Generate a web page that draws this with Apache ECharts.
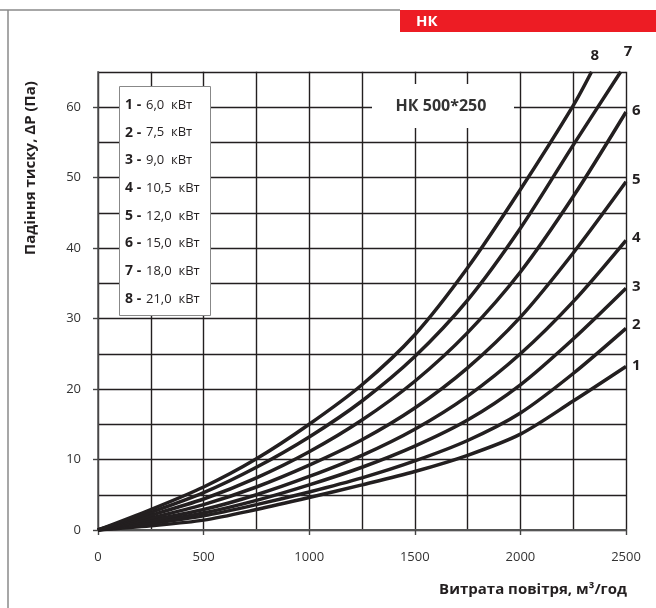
<!DOCTYPE html>
<html><head><meta charset="utf-8">
<script src="https://cdn.jsdelivr.net/npm/echarts@6/dist/echarts.min.js"></script>
<style>html,body{margin:0;padding:0;background:#fff}#c{width:656px;height:608px}</style>
</head><body><div id="c"></div>
<script>
// Air flow, m3/h
const flow = [0, 250, 500, 750, 1000, 1250, 1500, 1750, 2000, 2250, 2500];
// last flow point of each curve (curves 7 and 8 leave the chart at the top)
const endFlow = [2500, 2500, 2500, 2500, 2500, 2500, 2475, 2337];
const curveNo = ['1', '2', '3', '4', '5', '6', '7', '8'];
const powers = ['6,0', '7,5', '9,0', '10,5', '12,0', '15,0', '18,0', '21,0'];
// Pressure drop, Pa
const dp1 = [0, 0.6, 1.4, 2.9, 4.6, 6.4, 8.3, 10.6, 13.6, 18.3, 23.2];
const dp2 = [0, 0.9, 2.0, 3.6, 5.4, 7.4, 9.8, 12.7, 16.6, 22.2, 28.6];
const dp3 = [0, 1.1, 2.4, 4.2, 6.4, 8.9, 11.9, 15.6, 20.6, 27.1, 34.3];
const dp4 = [0, 1.4, 2.9, 5.0, 7.6, 10.6, 14.3, 19.0, 25.0, 32.4, 41.1];
const dp5 = [0, 1.7, 3.6, 6.1, 9.2, 12.8, 17.3, 23.0, 30.2, 39.3, 49.4];
const dp6 = [0, 2.1, 4.4, 7.4, 11.1, 15.6, 21.1, 28.0, 36.6, 47.3, 59.3];
const dp7 = [0, 2.5, 5.3, 8.9, 13.2, 18.3, 24.6, 32.6, 42.8, 54.6, 65.0];
const dp8 = [0, 2.9, 6.1, 10.1, 15.0, 20.6, 27.7, 37.2, 48.3, 60.2, 65.0];
const curves = [dp1, dp2, dp3, dp4, dp5, dp6, dp7, dp8];
const xTickLabels = [0, 500, 1000, 1500, 2000, 2500];
const yTickLabels = [0, 10, 20, 30, 40, 50, 60];
const labelOffsets = [[0, -1], [0, -4], [0, -1], [0, -3], [0, -2], [0, -1], [-3, -20], [-7, -16]];

const FONT = '"Open Sans", "Noto Sans", sans-serif';
const INK = '#231f20';

const chart = echarts.init(document.getElementById('c'), null, { renderer: 'canvas' });

const series = curves.map((dp, i) => ({
  type: 'line',
  name: curveNo[i],
  xAxisIndex: 0, yAxisIndex: 0,
  data: dp.map((v, j) => [j === dp.length - 1 ? endFlow[i] : flow[j], v]),
  smooth: 0.3,
  showSymbol: false,
  symbol: 'none',
  lineStyle: { color: INK, width: 3.5 },
  clip: true,
  silent: true,
  z: 5,
  endLabel: {
    show: true, formatter: curveNo[i], color: INK, fontFamily: FONT,
    fontWeight: 'bold', fontSize: 15, distance: 6, offset: labelOffsets[i]
  }
}));

const legendTexts = [];
curveNo.forEach((n, i) => {
  const y = 105 + i * 27.7;
  legendTexts.push({ type: 'text', x: 125, y: y, z: 101,
    style: { text: n + ' -', fill: INK, font: 'bold 14px ' + FONT, textVerticalAlign: 'middle' } });
  legendTexts.push({ type: 'text', x: 146, y: y, z: 101,
    style: { text: powers[i] + '  кВт', fill: INK, font: '13px ' + FONT, textVerticalAlign: 'middle' } });
});

chart.setOption({
  animation: false,
  backgroundColor: '#fff',
  grid: { left: 98, right: 30, top: 71.8, bottom: 78, containLabel: false },
  xAxis: [
    { type: 'value', min: 0, max: 2500, interval: 250, position: 'bottom',
      axisLine: { show: true, lineStyle: { color: '#555', width: 2 } },
      axisTick: { show: false }, axisLabel: { show: false },
      splitLine: { show: true, lineStyle: { color: INK, width: 1.4 } } },
    { type: 'value', min: 0, max: 2500, interval: 500, position: 'bottom',
      axisLine: { show: false },
      axisTick: { show: true, length: 5, customValues: xTickLabels, lineStyle: { color: '#444', width: 1.4 } },
      axisLabel: { show: true, customValues: xTickLabels, margin: 21, color: '#333', fontFamily: FONT, fontSize: 13,
        formatter: v => String(v) },
      splitLine: { show: false } }
  ],
  yAxis: [
    { type: 'value', min: 0, max: 65, interval: 5, position: 'left',
      axisLine: { show: true, lineStyle: { color: '#555', width: 1.5 } },
      axisTick: { show: false }, axisLabel: { show: false },
      splitLine: { show: true, lineStyle: { color: INK, width: 1.4 } } },
    { type: 'value', min: 0, max: 65, interval: 10, position: 'left',
      axisLine: { show: false },
      axisTick: { show: true, length: 5, customValues: yTickLabels, lineStyle: { color: '#444', width: 1.4 } },
      axisLabel: { show: true, customValues: yTickLabels, margin: 17, color: '#333', fontFamily: FONT, fontSize: 13,
        formatter: v => (v % 10 === 0 && v <= 60) ? String(v) : '' },
      splitLine: { show: false } }
  ],
  series: series,
  graphic: [
    { type: 'line', z: 100, shape: { x1: 0, y1: 10, x2: 400, y2: 10 }, style: { stroke: '#8a8a8a', lineWidth: 1.5 } },
    { type: 'line', z: 100, shape: { x1: 8, y1: 10, x2: 8, y2: 608 }, style: { stroke: '#8a8a8a', lineWidth: 1.5 } },
    { type: 'rect', z: 100, shape: { x: 400, y: 10, width: 256, height: 22 }, style: { fill: '#ed1c24' } },
    { type: 'text', z: 101, x: 416, y: 22, style: { text: 'НК', fill: '#fff', font: 'bold 15px ' + FONT, textVerticalAlign: 'middle' } },
    { type: 'text', z: 101, x: 31, y: 168, rotation: Math.PI / 2,
      style: { text: 'Падіння тиску, ΔP (Па)', fill: INK, font: 'bold 15px ' + FONT, textAlign: 'center', textVerticalAlign: 'middle' } },
    { type: 'text', z: 101, x: 627, y: 590,
      style: { text: 'Витрата повітря, м³/год', fill: INK, font: 'bold 15px ' + FONT, textAlign: 'right', textVerticalAlign: 'middle' } },
    { type: 'rect', z: 100, shape: { x: 372, y: 84, width: 142, height: 44 }, style: { fill: '#fff' } },
    { type: 'text', z: 101, x: 441, y: 106,
      style: { text: 'НК 500*250', fill: '#333', font: 'bold 16px ' + FONT, textAlign: 'center', textVerticalAlign: 'middle' } },
    { type: 'rect', z: 100, shape: { x: 119.5, y: 86.5, width: 91, height: 229 }, style: { fill: '#fff', stroke: '#888', lineWidth: 1 } },
    ...legendTexts
  ]
});
</script>
</body></html>
